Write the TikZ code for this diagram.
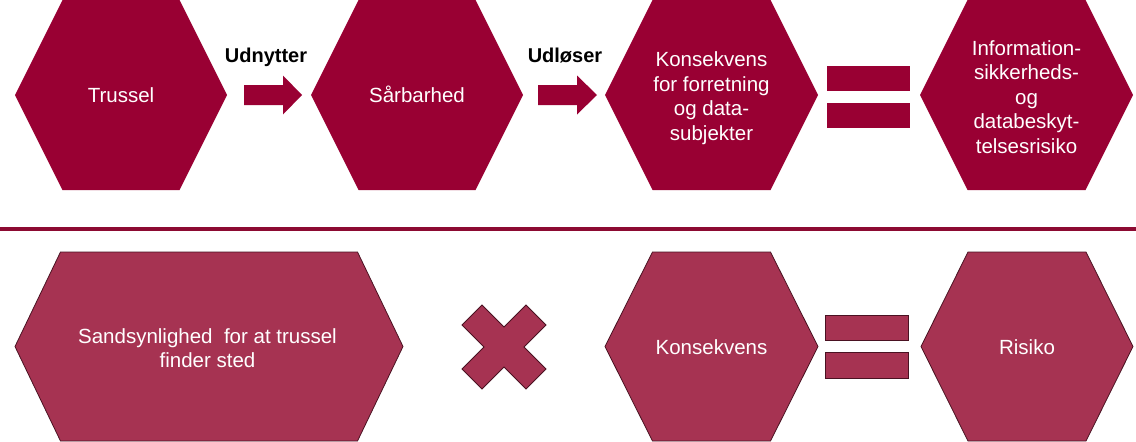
\documentclass[tikz,border=0pt]{standalone}
\usepackage{fontspec}
\setmainfont{Liberation Sans}
\definecolor{topred}{HTML}{990033}
\definecolor{botred}{HTML}{A63352}
\definecolor{botline}{HTML}{4A1222}
\definecolor{sepred}{HTML}{8C0A32}
\newcommand\hexpath[6]{%
  \path[#6] ({#1-#3},{#2}) -- ({#1-#4},{#2-#5}) -- ({#1+#4},{#2-#5}) -- ({#1+#3},{#2})
     -- ({#1+#4},{#2+#5}) -- ({#1-#4},{#2+#5}) -- cycle;}
\tikzset{
  topfill/.style={fill=topred, draw=none},
  botfill/.style={fill=botred, draw=botline, line width=0.8pt, line join=miter},
  hextext/.style={text=white, font=\fontsize{20.5}{24.5}\selectfont, align=center, inner sep=0pt},
  verblabel/.style={text=black, font=\bfseries\fontsize{20}{24}\selectfont, inner sep=0pt, anchor=base},
}
\begin{document}
\begin{tikzpicture}[x=1pt,y=-1pt]
\useasboundingbox (0,0) rectangle (1136,442);
% ---- top row ----
\hexpath{121}{95}{106}{58.5}{95}{topfill}
\hexpath{417}{95}{106}{58.5}{95}{topfill}
\hexpath{711.5}{95}{106.5}{59}{95}{topfill}
\hexpath{1026.5}{95}{106.5}{59}{95}{topfill}
\node[hextext, anchor=base] (trussel) at (121,102) {Trussel};
\node[hextext, anchor=base] (saarbarhed) at (417,102) {Sårbarhed};
\node[hextext] (konsekA) at (711.5,98) {Konsekvens\\for forretning\\og data-\\subjekter};
\node[hextext] (infoA) at (1026.5,97) {Information-\\sikkerheds-\\og\\databeskyt-\\telsesrisiko};
% block arrows
\fill[topred] (244,85) -- (283,85) -- (283,75.5) -- (302,95) -- (283,114.5) -- (283,105) -- (244,105) -- cycle;
\fill[topred] (538,85) -- (577,85) -- (577,75.5) -- (597,95) -- (577,114.5) -- (577,105) -- (538,105) -- cycle;
\node[verblabel] (udnytter) at (266,62) {Udnytter};
\node[verblabel] (udloeser) at (565,62) {Udløser};
% equals
\fill[topred] (827,66) rectangle (910,91);
\fill[topred] (827,103) rectangle (910,128);
% ---- separator ----
\fill[sepred] (0,227) rectangle (1136,231);
% ---- bottom row ----
\hexpath{209}{346.5}{194}{148.5}{94.5}{botfill}
\hexpath{711.5}{346.5}{106.5}{59}{94.5}{botfill}
\hexpath{1027}{346.5}{106}{59}{94.5}{botfill}
\node[hextext] (sand) at (207.5,348) {Sandsynlighed\ \ for at trussel\\finder sted};
\node[hextext, anchor=base] (konsekB) at (711.5,354) {Konsekvens};
\node[hextext, anchor=base] (risiko) at (1027,354) {Risiko};
% times sign
\path[botfill, shift={(504,347)}] (0,-20) -- (22,-42) -- (42,-22) -- (20,0) -- (42,22) -- (22,42)
  -- (0,20) -- (-22,42) -- (-42,22) -- (-20,0) -- (-42,-22) -- (-22,-42) -- cycle;
% equals
\path[botfill] (825,315) rectangle (908,340);
\path[botfill] (825,352) rectangle (908,378);
\end{tikzpicture}
\end{document}
